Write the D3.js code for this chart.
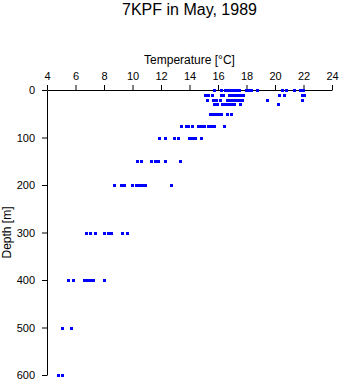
<!DOCTYPE html>
<html>
<head>
<meta charset="utf-8">
<script src="https://cdn.jsdelivr.net/npm/d3@7"></script>
<style>
  html, body { margin: 0; padding: 0; background: #fff; }
  svg { display: block; font-family: "Liberation Sans", Arial, Helvetica, sans-serif; }
</style>
</head>
<body>
<svg id="chart" width="341" height="384"></svg>
<script>
// Sampling depths (m) and the temperatures (°C) measured at each one
const depths = [0, 10, 20, 30, 50, 75, 100, 150, 200, 300, 400, 500, 600];

const temps0   = [15.73, 16.19, 16.47, 16.68, 16.89, 17.10, 17.32, 17.49, 17.98, 18.19, 18.30, 18.72, 20.47, 20.79, 21.31, 21.77, 21.94];
const temps10  = [15.10, 15.28, 15.58, 16.22, 16.36, 16.75, 16.96, 17.10, 17.32, 17.53, 17.74, 20.25, 20.66, 21.87, 22.01];
const temps20  = [15.22, 15.68, 15.88, 16.14, 16.65, 16.86, 17.07, 17.28, 17.49, 17.66, 19.44, 21.91];
const temps30  = [15.73, 15.94, 16.30, 16.51, 16.72, 16.93, 17.14, 17.52, 20.22];
const temps50  = [15.45, 15.66, 15.87, 16.08, 16.22, 16.63, 16.91];
const temps75  = [13.42, 13.73, 13.91, 14.19, 14.58, 14.79, 15.03, 15.28, 15.52, 15.73, 16.44];
const temps100 = [11.87, 12.27, 12.93, 13.17, 13.98, 14.19, 14.40, 14.79];
const temps150 = [10.33, 10.62, 11.30, 11.58, 11.79, 12.28, 13.33];
const temps200 = [8.70, 9.21, 9.42, 9.96, 10.26, 10.47, 10.68, 10.89, 12.72];
const temps300 = [6.75, 7.03, 7.38, 8.01, 8.26, 8.47, 9.28, 9.61];
const temps400 = [5.49, 5.79, 6.61, 6.82, 7.03, 7.24, 7.98];
const temps500 = [5.03, 5.66];
const temps600 = [4.79, 5.07];

const tempsByDepth = [temps0, temps10, temps20, temps30, temps50, temps75, temps100,
                      temps150, temps200, temps300, temps400, temps500, temps600];

const tempTicks  = [4, 6, 8, 10, 12, 14, 16, 18, 20, 22, 24];
const depthTicks = [0, 100, 200, 300, 400, 500, 600];

const title = "7KPF in May, 1989";
const xTitle = "Temperature [°C]";
const yTitle = "Depth [m]";

// Flatten into one point per observation
const points = [];
depths.forEach((d, i) => tempsByDepth[i].forEach(t => points.push({ depth: d, temp: t })));

const svg = d3.select("#chart");
const plotLeft = 47, plotRight = 332, plotTop = 90, plotBottom = 375;

const x = d3.scaleLinear().domain([4, 24]).range([plotLeft, plotRight]);
const y = d3.scaleLinear().domain([0, 600]).range([plotTop, plotBottom]);

// Temperature axis along the top
const xAxis = svg.append("g")
  .attr("transform", `translate(0,${plotTop})`)
  .call(d3.axisTop(x).tickValues(tempTicks).tickFormat(d3.format("d"))
    .tickSize(5).tickSizeOuter(0).tickPadding(5));

// Depth axis on the left, increasing downward
const yAxis = svg.append("g")
  .attr("transform", `translate(${plotLeft},0)`)
  .call(d3.axisLeft(y).tickValues(depthTicks).tickFormat(d3.format("d"))
    .tickSize(5).tickSizeOuter(0).tickPadding(7));

[xAxis, yAxis].forEach(g => {
  g.selectAll("path.domain, line").attr("stroke", "#000").attr("stroke-width", 1);
  g.selectAll("text").attr("fill", "#000").style("font-size", "11px")
    .style("font-family", "'Liberation Sans', Arial, sans-serif");
});

// Observations as small blue squares
svg.append("g")
  .selectAll("rect")
  .data(points)
  .join("rect")
  .attr("x", d => Math.round(x(d.temp)) - 1)
  .attr("y", d => Math.round(y(d.depth)) - 1)
  .attr("width", 3)
  .attr("height", 3)
  .attr("fill", "#0000ff")
  .attr("shape-rendering", "crispEdges");

// Titles
svg.append("text")
  .attr("x", (plotLeft + plotRight) / 2).attr("y", 15)
  .attr("text-anchor", "middle")
  .style("font-size", "16px")
  .text(title);

svg.append("text")
  .attr("x", (plotLeft + plotRight) / 2).attr("y", 64)
  .attr("text-anchor", "middle")
  .style("font-size", "12px")
  .text(xTitle);

svg.append("text")
  .attr("transform", `translate(11,${(plotTop + plotBottom) / 2}) rotate(-90)`)
  .attr("text-anchor", "middle")
  .style("font-size", "12px")
  .text(yTitle);
</script>
</body>
</html>
